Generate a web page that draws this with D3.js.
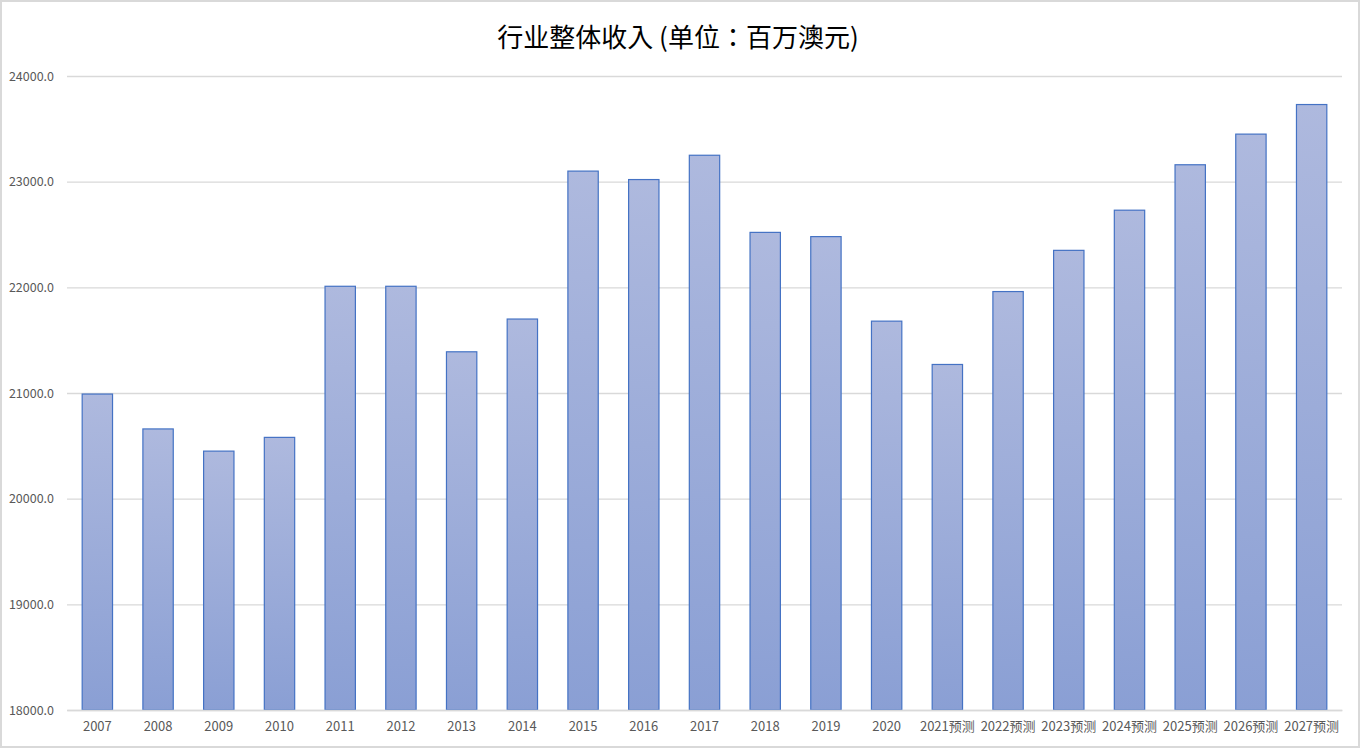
<!DOCTYPE html>
<html><head><meta charset="utf-8">
<script src="https://cdn.jsdelivr.net/npm/d3@7/dist/d3.min.js"></script>
<style>html,body{margin:0;padding:0;background:#fff;}svg{display:block;}</style>
</head><body>
<script>
const categories = ["2007","2008","2009","2010","2011","2012","2013","2014","2015","2016","2017","2018","2019","2020","2021预测","2022预测","2023预测","2024预测","2025预测","2026预测","2027预测"];
const values = [20990,20660,20450,20580,22010,22010,21390,21700,23100,23020,23250,22520,22480,21680,21270,21960,22350,22730,23160,23450,23730];
const yTicks = [18000,19000,20000,21000,22000,23000,24000];
const title = "行业整体收入 (单位：百万澳元)";

const W = 1360, H = 748;
const margin = {left: 67, right: 18, top: 76, bottom: 38};
const svg = d3.select("body").append("svg").attr("width", W).attr("height", H);
const defs = svg.append("defs");
const grad = defs.append("linearGradient").attr("id","g").attr("x1",0).attr("y1",0).attr("x2",0).attr("y2",1);
grad.append("stop").attr("offset","0%").attr("stop-color","#aeb9de");
grad.append("stop").attr("offset","100%").attr("stop-color","#8a9fd4");

svg.append("rect").attr("x",1).attr("y",1).attr("width",W-2).attr("height",H-2)
  .attr("fill","#fff").attr("stroke","#d9d9d9").attr("stroke-width",2);

const x = d3.scaleBand().domain(categories).range([margin.left, W - margin.right]).paddingInner(0.5).paddingOuter(0.25);
const y = d3.scaleLinear().domain([18000,24000]).range([H - margin.bottom, margin.top]);

const font = "'Noto Sans CJK SC','Noto Sans',sans-serif";

svg.append("text").attr("x", W/2 - 2).attr("y", 47).attr("text-anchor","middle")
  .attr("font-family", "'Noto Sans CJK TC','Noto Sans',sans-serif").attr("font-size", 26).attr("fill","#000").text(title);

const gy = svg.append("g").attr("transform",`translate(${margin.left},0)`)
  .call(d3.axisLeft(y).tickValues(yTicks).tickFormat(d3.format(".1f")).tickSize(-(W - margin.left - margin.right)).tickPadding(13));
gy.select(".domain").remove();
gy.selectAll(".tick line").attr("stroke","#d9d9d9").attr("stroke-width",1.3);
gy.selectAll(".tick text").attr("font-family", font).attr("font-size", 12.5).attr("fill","#595959");

svg.append("g").selectAll("rect").data(values).join("rect")
  .attr("x",(d,i)=>x(categories[i]))
  .attr("y",d=>y(d))
  .attr("width",x.bandwidth())
  .attr("height",d=>y(18000)-y(d))
  .attr("fill","url(#g)")
  .attr("stroke","#4472c4").attr("stroke-width",1.2);

const gx = svg.append("g").attr("transform",`translate(0,${H - margin.bottom})`)
  .call(d3.axisBottom(x).tickSize(0).tickPadding(12));
gx.select(".domain").attr("stroke","#d9d9d9").attr("stroke-width",1.3);
gx.selectAll(".tick text").attr("font-family", font).attr("font-size", 13).attr("fill","#595959");
</script>
</body></html>
